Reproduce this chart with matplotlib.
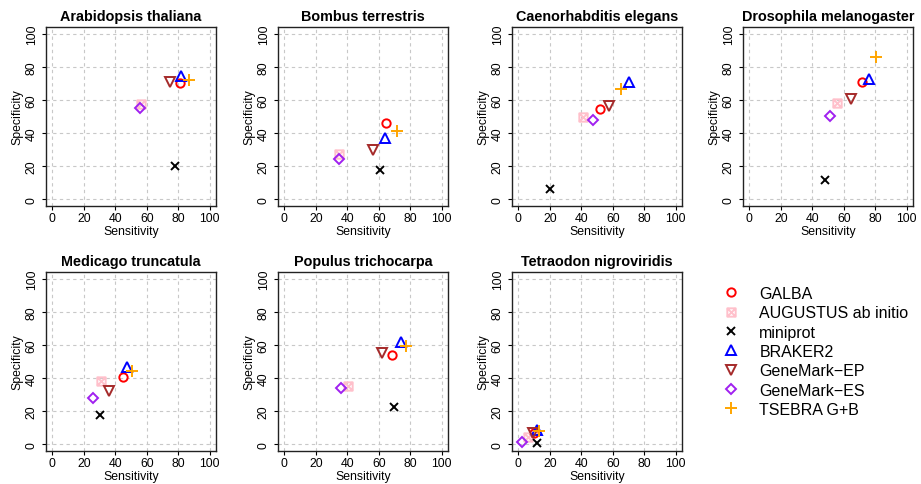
import numpy as np
import matplotlib
matplotlib.use("Agg")
import matplotlib.pyplot as plt
from matplotlib.path import Path
from matplotlib.lines import Line2D

plt.rcParams['font.family'] = ['Liberation Sans', 'DejaVu Sans']

species = ['Arabidopsis thaliana', 'Bombus terrestris', 'Caenorhabditis elegans',
           'Drosophila melanogaster', 'Medicago truncatula', 'Populus trichocarpa',
           'Tetraodon nigroviridis']
methods = ['GALBA', 'AUGUSTUS ab initio', 'miniprot', 'BRAKER2',
           'GeneMark\u2212EP', 'GeneMark\u2212ES', 'TSEBRA G+B']

# sensitivity / specificity per method, one value per species
sn_galba = [81.4, 64.8, 52.1, 71.3, 44.6, 68.3, 10.0]
sp_galba = [70.1, 45.9, 54.5, 70.7, 40.4, 53.8, 7.0]
sn_augustus = [56.1, 34.6, 41.1, 56.0, 30.9, 40.6, 5.9]
sp_augustus = [57.3, 27.3, 49.7, 58.2, 38.1, 35.5, 4.7]
sn_miniprot = [78.2, 61.1, 20.1, 48.2, 30.2, 69.8, 12.0]
sp_miniprot = [20.3, 17.6, 6.1, 11.7, 17.8, 22.7, 1.0]
sn_braker2 = [82.0, 63.9, 70.3, 76.0, 47.6, 74.0, 12.0]
sp_braker2 = [74.5, 36.8, 71.1, 72.7, 46.4, 61.7, 8.7]
sn_gm_ep = [74.6, 56.5, 57.6, 64.3, 36.2, 62.0, 9.1]
sp_gm_ep = [71.0, 29.9, 56.2, 60.6, 32.0, 55.4, 7.1]
sn_gm_es = [56.0, 34.6, 47.5, 51.4, 26.0, 35.9, 2.5]
sp_gm_es = [55.0, 24.2, 47.9, 50.1, 28.0, 33.9, 1.6]
sn_tsebra = [86.9, 71.3, 65.3, 80.7, 50.7, 77.6, 13.1]
sp_tsebra = [72.2, 41.2, 66.7, 85.9, 44.0, 59.2, 8.1]

sn = [sn_galba, sn_augustus, sn_miniprot, sn_braker2, sn_gm_ep, sn_gm_es, sn_tsebra]
sp = [sp_galba, sp_augustus, sp_miniprot, sp_braker2, sp_gm_ep, sp_gm_es, sp_tsebra]

# square with a cross, like R's pch 7
boxx = Path([(-1, -1), (1, -1), (1, 1), (-1, 1), (-1, -1),
             (-1, -1), (1, 1), (-1, 1), (1, -1)],
            [Path.MOVETO, Path.LINETO, Path.LINETO, Path.LINETO, Path.CLOSEPOLY,
             Path.MOVETO, Path.LINETO, Path.MOVETO, Path.LINETO])

colors = ['#ff0000', '#ffc0cb', '#000000', '#0000ff', '#a52a2a', '#a020f0', '#ffa500']
markers = ['o', boxx, 'x', '^', 'v', 'D', '+']
sizes = [6.0, 6.0, 6.0, 7.0, 7.0, 5.5, 8.5]

fig = plt.figure(figsize=(9.21, 4.85), dpi=100)
W, H = 921.0, 485.0
lefts = [46, 278, 512, 743]
tops = [28, 273]
aw, ah = 170, 179

for k, name in enumerate(species):
    r, c = divmod(k, 4)
    ax = fig.add_axes([lefts[c] / W, 1 - (tops[r] + ah) / H, aw / W, ah / H])
    ax.set_xlim(-4, 104)
    ax.set_ylim(-4, 104)
    ticks = np.arange(0, 101, 20)
    ax.set_xticks(ticks)
    ax.set_yticks(ticks)
    for t in ticks:
        ax.axvline(t, color='#c8c8c8', lw=0.8, ls=(0, (3, 3)), zorder=0)
        ax.axhline(t, color='#c8c8c8', lw=0.8, ls=(0, (3, 3)), zorder=0)
    for m in range(len(methods)):
        ax.plot(sn[m][k], sp[m][k], ls='none', marker=markers[m], ms=sizes[m],
                mfc='none', mec=colors[m], mew=1.4, zorder=3)
    ax.tick_params(axis='x', length=3, width=0.8, pad=1, labelsize=8.8)
    ax.tick_params(axis='y', length=3, width=0.8, pad=3, labelsize=8.8)
    for lab in ax.get_yticklabels():
        lab.set_rotation(90)
        lab.set_va('center')
    for s in ax.spines.values():
        s.set_linewidth(1.0)
        s.set_color('#222222')
    ax.set_xlabel('Sensitivity', fontsize=8.8, labelpad=1)
    ax.set_ylabel('Specificity', fontsize=8.8, labelpad=1.5)
    ax.set_title(name, fontsize=10.4, fontweight='bold', pad=5)

handles = [Line2D([], [], ls='none', marker=markers[m], ms=sizes[m], mfc='none',
                  mec=colors[m], mew=1.4) for m in range(len(methods))]
fig.legend(handles, methods, loc='upper left', bbox_to_anchor=(721 / W, 1 - 287 / H),
           frameon=False, fontsize=11.5, handlelength=1.2, handletextpad=1.2,
           labelspacing=0.27, borderaxespad=0, borderpad=0)

fig.savefig('out.png', dpi=100)
